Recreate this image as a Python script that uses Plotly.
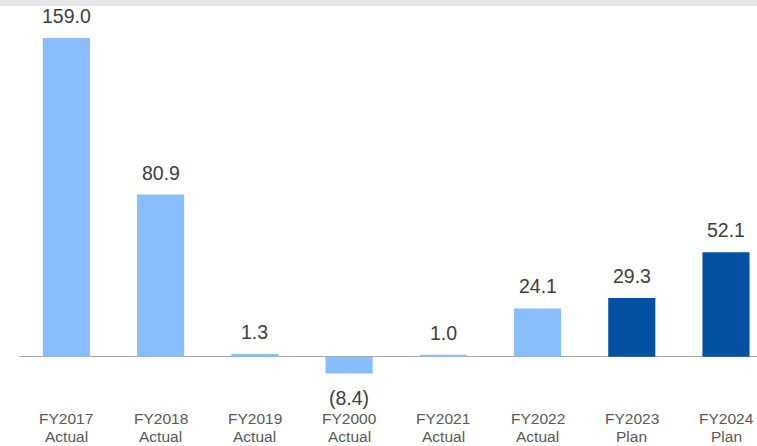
import plotly.graph_objects as go

categories = ["FY2017", "FY2018", "FY2019", "FY2000", "FY2021", "FY2022", "FY2023", "FY2024"]
sublabels = ["Actual", "Actual", "Actual", "Actual", "Actual", "Actual", "Plan", "Plan"]
values = [159.0, 80.9, 1.3, -8.4, 1.0, 24.1, 29.3, 52.1]
kinds = ["Actual", "Actual", "Actual", "Actual", "Actual", "Actual", "Plan", "Plan"]

LIGHT = "#8abdfd"
DARK = "#0450a3"
colors = [LIGHT if k == "Actual" else DARK for k in kinds]

W, H = 757, 446
ML = 19
zero_px = 356.7
ppu = 2.005
ymax = zero_px / ppu
ymin = -(H - zero_px) / ppu

FONT = "Liberation Sans, Arial, sans-serif"
VAL_SIZE = 19.5
LBL_SIZE = 15.5

fig = go.Figure(go.Bar(
    x=list(range(len(categories))), y=values,
    marker=dict(color=colors, line=dict(width=0)),
    width=0.5, hoverinfo="skip",
))

def fmt(v):
    return f"({abs(v):.1f})" if v < 0 else f"{v:.1f}"

anns = []
for i, v in enumerate(values):
    if v >= 0:
        anns.append(dict(x=i, y=v, xref="x", yref="y", text=fmt(v), showarrow=False,
                         yanchor="bottom", yshift=9,
                         font=dict(family=FONT, size=VAL_SIZE, color="#404040")))
    else:
        anns.append(dict(x=i, y=v, xref="x", yref="y", text=fmt(v), showarrow=False,
                         yanchor="top", yshift=-11,
                         font=dict(family=FONT, size=VAL_SIZE, color="#404040")))
for i, (c, s) in enumerate(zip(categories, sublabels)):
    anns.append(dict(x=i, y=(H - 409.0) / H, xref="x", yref="paper", text=c, showarrow=False,
                     yanchor="top", borderpad=0,
                     font=dict(family=FONT, size=LBL_SIZE, color="#595959")))
    anns.append(dict(x=i, y=0, xref="x", yref="paper", text=s, showarrow=False,
                     yanchor="bottom", borderpad=0,
                     font=dict(family=FONT, size=LBL_SIZE, color="#595959")))

plot_w = W - ML
spacing = 94.23
x0 = -(66.4 - ML) / spacing
x1 = x0 + plot_w / spacing

fig.update_layout(
    width=W, height=H,
    margin=dict(l=ML, r=0, t=0, b=0, pad=0),
    paper_bgcolor="white", plot_bgcolor="white",
    showlegend=False,
    annotations=anns,
    xaxis=dict(range=[x0, x1], showticklabels=False, showgrid=False, zeroline=False,
               showline=False, ticks="", fixedrange=True),
    yaxis=dict(range=[ymin, ymax], showticklabels=False, showgrid=False,
               zeroline=True, zerolinecolor="#a6a6a6", zerolinewidth=1,
               showline=False, ticks="", fixedrange=True),
    shapes=[dict(type="rect", xref="paper", yref="paper",
                 x0=-ML / plot_w, x1=1, y0=1 - 6 / H, y1=1,
                 fillcolor="#e6e7e9", line=dict(width=0), layer="above")],
)

fig.write_html("out.html", config={"displayModeBar": False},
               post_script="document.body.style.margin='0';document.body.style.padding='0';document.body.style.overflow='hidden';")
